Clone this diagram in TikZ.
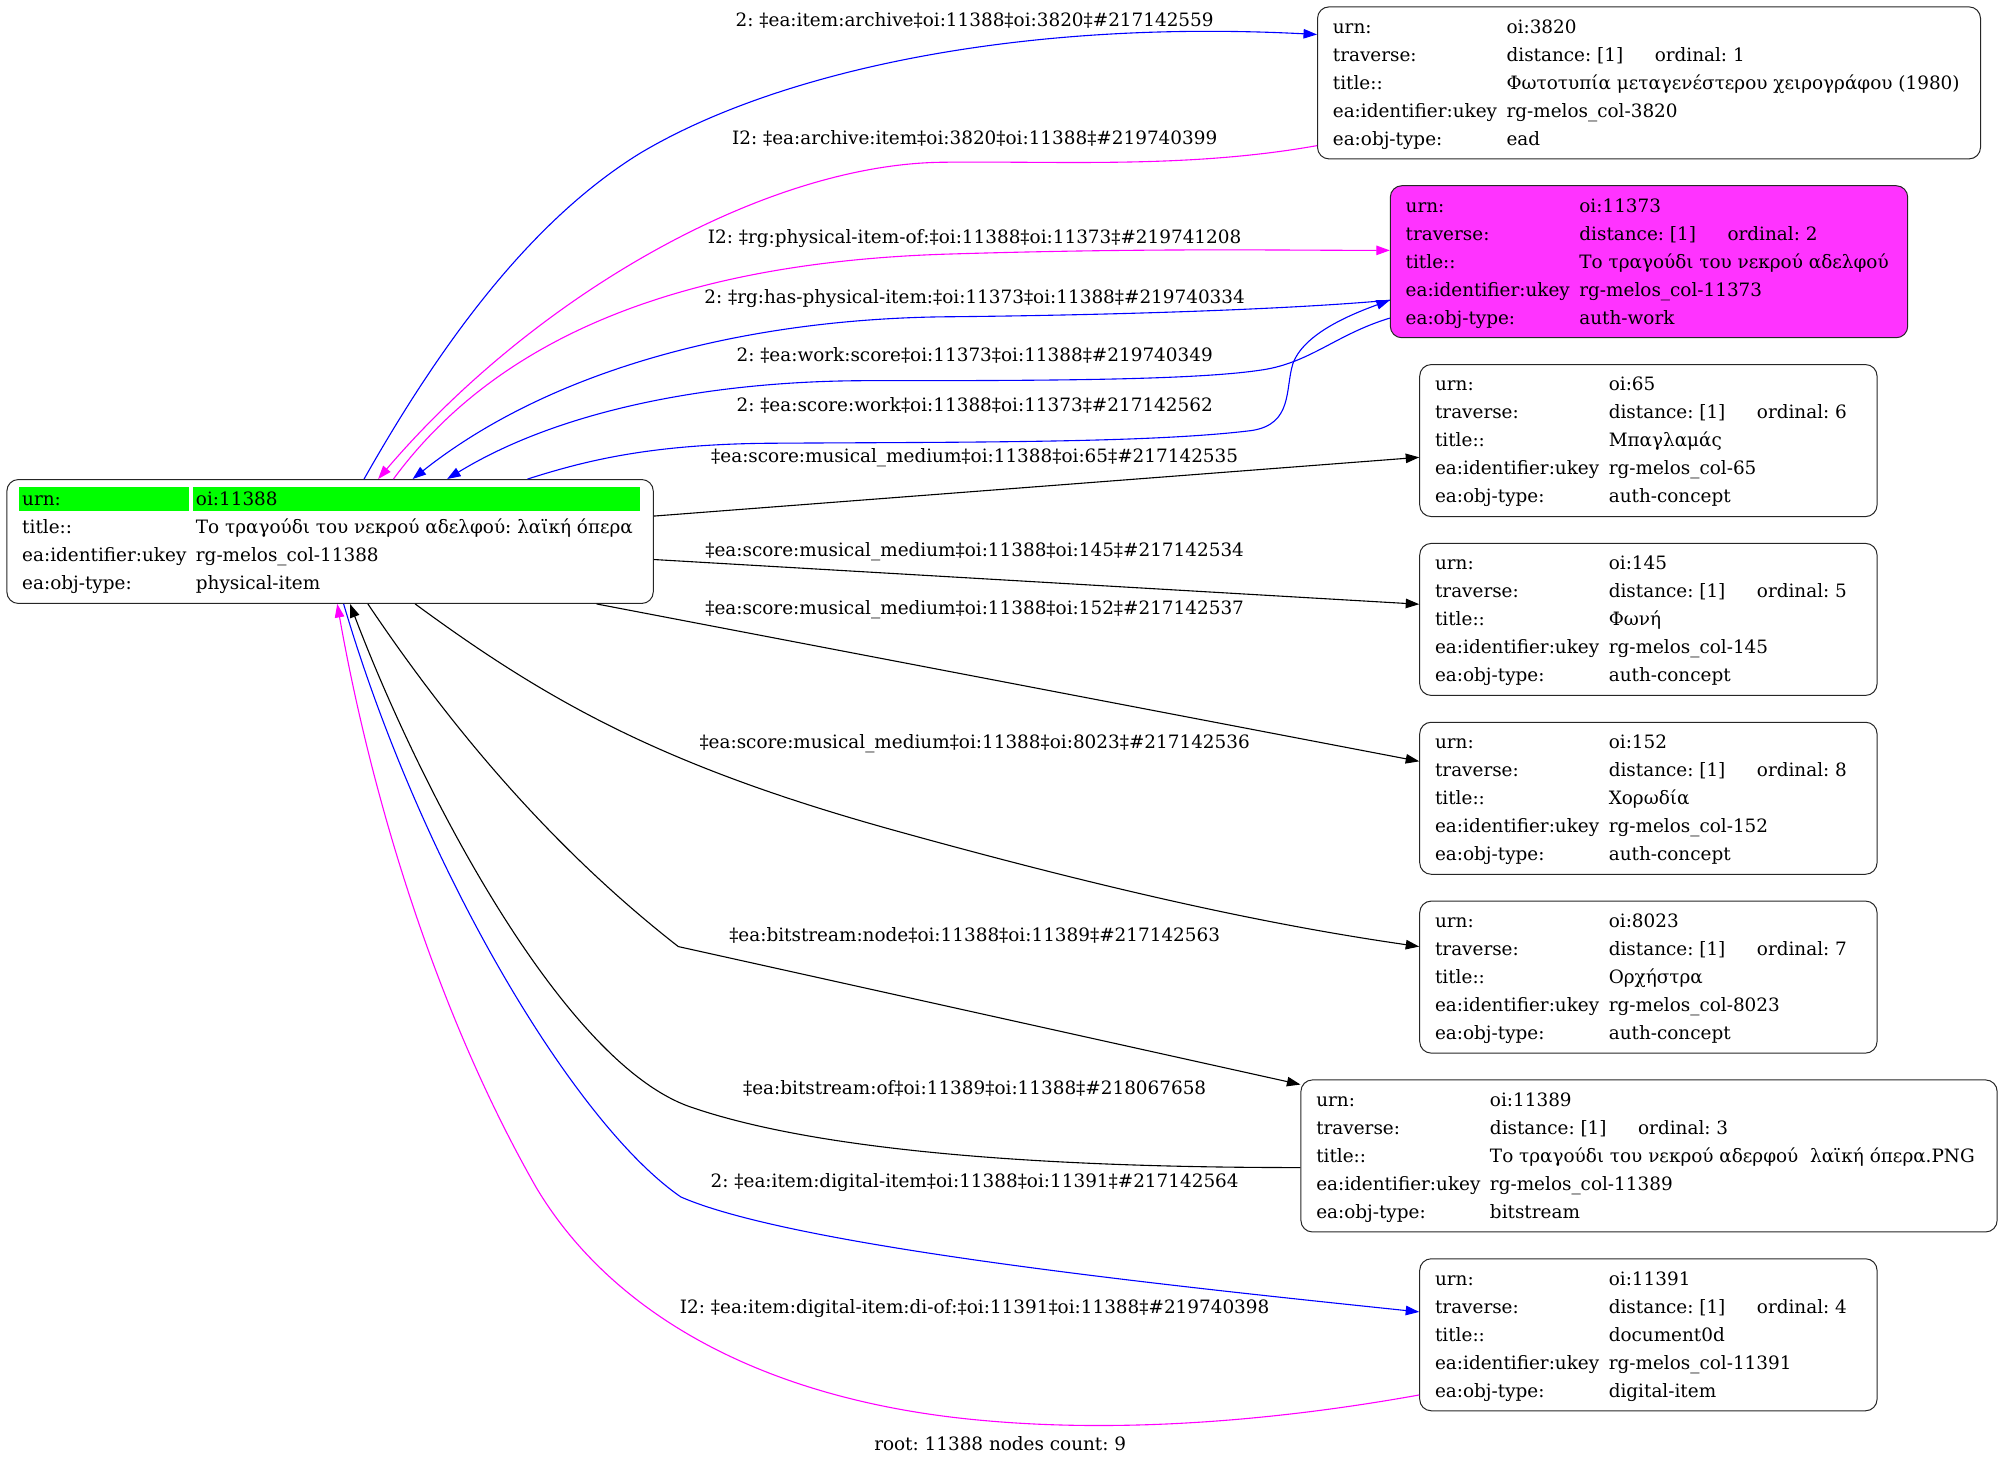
\documentclass[tikz,border=0pt]{standalone}
\usepackage{fontspec}
\setmainfont{DejaVu Serif}
\usetikzlibrary{arrows.meta,calc}
\frenchspacing
\newdimen\ux \ux=1.2774pt
\definecolor{magfill}{RGB}{255,51,255}
\definecolor{mag}{RGB}{255,0,255}
\definecolor{blu}{RGB}{0,0,255}
\definecolor{grn}{RGB}{0,255,0}
\newcommand\rst{\rule[-7.6pt]{0pt}{28pt}}
\newcommand\rowx[3]{\makebox[#1\ux][l]{\makebox[136\ux][l]{#2}#3}\rst}
\newcommand\travx[1]{\makebox[116\ux][l]{distance: [1]}ordinal: #1}
\begin{document}
\begin{tikzpicture}[x=1.2774pt,y=-1.2774pt,
  rec/.style={draw=black!85, line width=1pt, rounded corners=9\ux, anchor=north west,
    inner xsep=12\ux, inner ysep=0pt, minimum height=119\ux, align=left,
    font=\frenchspacing\fontsize{18.4pt}{28pt}\selectfont},
  lbl/.style={inner sep=0pt, font=\frenchspacing\fontsize{18.4pt}{22pt}\selectfont},
  edge/.style={line width=1.1pt, -{Triangle[length=13.5pt,width=9.5pt]}},
]
\useasboundingbox (0,0) rectangle (1568,1147);
% highlight of the root row
\fill[grn] (15,381) rectangle (148,400);
\fill[grn] (151,381) rectangle (501,400);

% nodes
\node[rec, minimum height=97\ux] (n11388) at (5,375) {%
\rowx{482}{urn:}{oi:11388}\\
\rowx{482}{title::}{Το τραγούδι του νεκρού αδελφού: λαϊκή όπερα}\\
\rowx{482}{ea:identifier:ukey}{rg-melos\_col-11388}\\
\rowx{482}{ea:obj-type:}{physical-item}};

\node[rec] (n3820) at (1031,5) {%
\rowx{495}{urn:}{oi:3820}\\
\rowx{495}{traverse:}{\travx{1}}\\
\rowx{495}{title::}{Φωτοτυπία μεταγενέστερου χειρογράφου (1980)}\\
\rowx{495}{ea:identifier:ukey}{rg-melos\_col-3820}\\
\rowx{495}{ea:obj-type:}{ead}};

\node[rec, fill=magfill] (n11373) at (1088,145) {%
\rowx{381}{urn:}{oi:11373}\\
\rowx{381}{traverse:}{\travx{2}}\\
\rowx{381}{title::}{Το τραγούδι του νεκρού αδελφού}\\
\rowx{381}{ea:identifier:ukey}{rg-melos\_col-11373}\\
\rowx{381}{ea:obj-type:}{auth-work}};

\node[rec] (n65) at (1111,285) {%
\rowx{334}{urn:}{oi:65}\\
\rowx{334}{traverse:}{\travx{6}}\\
\rowx{334}{title::}{Μπαγλαμάς}\\
\rowx{334}{ea:identifier:ukey}{rg-melos\_col-65}\\
\rowx{334}{ea:obj-type:}{auth-concept}};

\node[rec] (n145) at (1111,425) {%
\rowx{334}{urn:}{oi:145}\\
\rowx{334}{traverse:}{\travx{5}}\\
\rowx{334}{title::}{Φωνή}\\
\rowx{334}{ea:identifier:ukey}{rg-melos\_col-145}\\
\rowx{334}{ea:obj-type:}{auth-concept}};

\node[rec] (n152) at (1111,565) {%
\rowx{334}{urn:}{oi:152}\\
\rowx{334}{traverse:}{\travx{8}}\\
\rowx{334}{title::}{Χορωδία}\\
\rowx{334}{ea:identifier:ukey}{rg-melos\_col-152}\\
\rowx{334}{ea:obj-type:}{auth-concept}};

\node[rec] (n8023) at (1111,705) {%
\rowx{334}{urn:}{oi:8023}\\
\rowx{334}{traverse:}{\travx{7}}\\
\rowx{334}{title::}{Ορχήστρα}\\
\rowx{334}{ea:identifier:ukey}{rg-melos\_col-8023}\\
\rowx{334}{ea:obj-type:}{auth-concept}};

\node[rec] (n11389) at (1018,845) {%
\rowx{521}{urn:}{oi:11389}\\
\rowx{521}{traverse:}{\travx{3}}\\
\rowx{521}{title::}{Το τραγούδι του νεκρού αδερφού~~λαϊκή όπερα.PNG}\\
\rowx{521}{ea:identifier:ukey}{rg-melos\_col-11389}\\
\rowx{521}{ea:obj-type:}{bitstream}};

\node[rec] (n11391) at (1111,985) {%
\rowx{334}{urn:}{oi:11391}\\
\rowx{334}{traverse:}{\travx{4}}\\
\rowx{334}{title::}{document0d}\\
\rowx{334}{ea:identifier:ukey}{rg-melos\_col-11391}\\
\rowx{334}{ea:obj-type:}{digital-item}};

% edges
\draw[edge, draw=blu] ($(n11388.north west)+(280,0)$) .. controls (350,260) and (420,170) .. (501,120)
  .. controls (610,55) and (800,15) .. ($(n3820.north west)+(0,22)$);
\draw[edge, draw=mag] ($(n3820.north west)+(0,109)$) .. controls (930,132) and (830,126) .. (739,127)
  .. controls (600,128) and (420,230) .. ($(n11388.north west)+(291,0)$);
\draw[edge, draw=mag] ($(n11388.north west)+(303,0)$) .. controls (400,250) and (560,205) .. (739,199)
  .. controls (900,194) and (1000,196) .. ($(n11373.north west)+(0,51)$);
\draw[edge, draw=blu] ($(n11373.north west)+(0,90)$) .. controls (1000,243) and (850,247) .. (739,248)
  .. controls (580,250) and (430,290) .. ($(n11388.north west)+(318,0)$);
\draw[edge, draw=blu] ($(n11373.north west)+(0,104)$) .. controls (1045,262) and (1025,285) .. (985,290)
  .. controls (930,298) and (800,298) .. (680,298)
  .. controls (560,298) and (440,320) .. ($(n11388.north west)+(345,0)$);
\draw[edge, draw=blu] ($(n11388.north west)+(408,0)$) .. controls (460,360) and (510,348) .. (600,347)
  .. controls (750,346) and (900,347) .. (980,337)
  .. controls (1012,332) and (1006,305) .. (1012,285)
  .. controls (1020,262) and (1055,247) .. ($(n11373.north west)+(0,90)$);
\draw[edge] ($(n11388.north east)+(0,29)$) -- ($(n65.north west)+(0,73)$);
\draw[edge] ($(n11388.north east)+(0,63)$) -- ($(n145.north west)+(0,48)$);
\draw[edge] ($(n11388.south west)+(462,0)$) -- ($(n152.north west)+(0,31)$);
\draw[edge] ($(n11388.south west)+(320,0)$) .. controls (430,550) and (520,600) .. (700,650)
  .. controls (880,700) and (1000,725) .. ($(n8023.north west)+(0,36)$);
\draw[edge] ($(n11388.south west)+(283,0)$) .. controls (360,580) and (440,670) .. (531,741)
  -- ($(n11389.north west)+(0,4)$);
\draw[edge] ($(n11389.north west)+(0,69)$) .. controls (850,914) and (650,905) .. (539,866)
  .. controls (440,830) and (330,620) .. ($(n11388.south west)+(269,0)$);
\draw[edge, draw=blu] ($(n11388.south west)+(264,0)$) .. controls (330,680) and (450,880) .. (533,937)
  .. controls (620,975) and (900,1005) .. ($(n11391.north west)+(0,42)$);
\draw[edge, draw=mag] ($(n11391.north west)+(0,107)$) .. controls (1000,1112) and (880,1122) .. (770,1112)
  .. controls (600,1097) and (480,1030) .. (420,930)
  .. controls (340,790) and (290,620) .. ($(n11388.south west)+(259,0)$);

% edge labels
\node[lbl] (l1) at (763,16) {2: ‡ea:item:archive‡oi:11388‡oi:3820‡\#217142559};
\node[lbl] (l2) at (763,108) {I2: ‡ea:archive:item‡oi:3820‡oi:11388‡\#219740399};
\node[lbl] (l3) at (763,187) {I2: ‡rg:physical-item-of:‡oi:11388‡oi:11373‡\#219741208};
\node[lbl] (l4) at (763,234) {2: ‡rg:has-physical-item:‡oi:11373‡oi:11388‡\#219740334};
\node[lbl] (l5) at (763,278) {2: ‡ea:work:score‡oi:11373‡oi:11388‡\#219740349};
\node[lbl] (l6) at (763,317) {2: ‡ea:score:work‡oi:11388‡oi:11373‡\#217142562};
\node[lbl] (l7) at (763,358) {‡ea:score:musical\_medium‡oi:11388‡oi:65‡\#217142535};
\node[lbl] (l8) at (763,432) {‡ea:score:musical\_medium‡oi:11388‡oi:145‡\#217142534};
\node[lbl] (l9) at (763,477) {‡ea:score:musical\_medium‡oi:11388‡oi:152‡\#217142537};
\node[lbl] (l10) at (763,582) {‡ea:score:musical\_medium‡oi:11388‡oi:8023‡\#217142536};
\node[lbl] (l11) at (763,732) {‡ea:bitstream:node‡oi:11388‡oi:11389‡\#217142563};
\node[lbl] (l12) at (763,852) {‡ea:bitstream:of‡oi:11389‡oi:11388‡\#218067658};
\node[lbl] (l13) at (763,926) {2: ‡ea:item:digital-item‡oi:11388‡oi:11391‡\#217142564};
\node[lbl] (l14) at (763,1024) {I2: ‡ea:item:digital-item:di-of:‡oi:11391‡oi:11388‡\#219740398};
\node[lbl] (cap) at (783,1130) {root: 11388 nodes count: 9};
\end{tikzpicture}
\end{document}
